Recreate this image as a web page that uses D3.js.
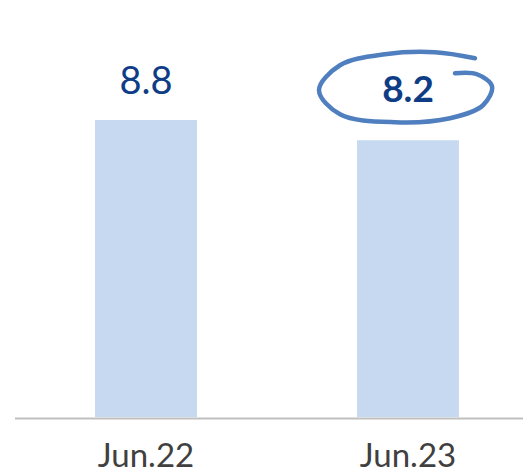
<!DOCTYPE html>
<html><head><meta charset="utf-8">
<script src="https://cdn.jsdelivr.net/npm/d3@7"></script>
<style>html,body{margin:0;padding:0;background:#fff;}svg{display:block;}</style>
</head><body>
<svg id="chart" width="523" height="473"></svg>
<script>
const categories = ["Jun.22", "Jun.23"];
const values = [8.8, 8.2];
const labelText = ["8.8", "8.2"];
const highlighted = [false, true];

const svg = d3.select("#chart");
const W = 523, H = 473;
const baseY = 417;

const x = d3.scaleBand().domain(categories).range([15, 539]).paddingInner(0.0).paddingOuter(0);
const y = d3.scaleLinear().domain([0, 8.8]).range([baseY, 120]);

const barW = 102;
const cx = d => x(d) + 131;

svg.selectAll("rect.bar").data(categories).join("rect")
  .attr("class", "bar")
  .attr("x", d => cx(d) - barW / 2)
  .attr("y", (d, i) => y(values[i]))
  .attr("width", barW)
  .attr("height", (d, i) => baseY - y(values[i]))
  .attr("fill", "#C6D9F0");

// baseline axis
svg.append("line").attr("x1", 15).attr("x2", W).attr("y1", baseY + 1.5).attr("y2", baseY + 1.5)
  .attr("stroke", "#BFBFBF").attr("stroke-width", 2);

// tick labels
svg.selectAll("text.tick").data(categories).join("text")
  .attr("class", "tick")
  .attr("x", d => cx(d))
  .attr("y", 467)
  .attr("text-anchor", "middle")
  .attr("font-family", "Lato, 'Open Sans', sans-serif")
  .attr("font-size", 33)
  .attr("fill", "#404040")
  .text(d => d);

// value labels
svg.selectAll("text.val").data(categories).join("text")
  .attr("class", "val")
  .attr("x", d => cx(d))
  .attr("y", (d, i) => y(values[i]) - (highlighted[i] ? 38 : 26))
  .attr("text-anchor", "middle")
  .attr("font-family", "Lato, 'Open Sans', sans-serif")
  .attr("font-size", (d, i) => highlighted[i] ? 37 : 38)
  .attr("font-weight", (d, i) => highlighted[i] ? 700 : 400)
  .attr("fill", "#0F3D85")
  .text((d, i) => labelText[i]);

// hand-drawn ellipse around highlighted label
const hc = cx(categories[1]) - 3, hy = y(values[1]) - 53;
const pts = [
  [hc + 70, hy - 29], [hc + 30, hy - 35], [hc - 20, hy - 33], [hc - 65, hy - 22],
  [hc - 86, hy + 3], [hc - 65, hy + 27], [hc - 10, hy + 35], [hc + 45, hy + 31],
  [hc + 78, hy + 18], [hc + 87, hy - 1], [hc + 72, hy - 13], [hc + 50, hy - 14]
];
svg.append("path")
  .attr("d", d3.line().curve(d3.curveCatmullRom.alpha(0.5))(pts))
  .attr("fill", "none")
  .attr("stroke", "#4F7FBF")
  .attr("stroke-width", 4.5)
  .attr("stroke-linecap", "round");
</script>
</body></html>
